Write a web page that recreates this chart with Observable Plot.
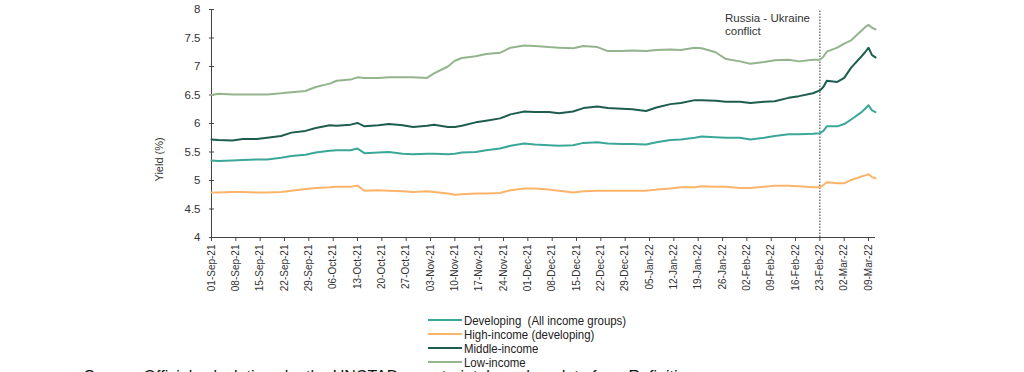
<!DOCTYPE html>
<html>
<head>
<meta charset="utf-8">
<script src="https://cdn.jsdelivr.net/npm/d3@7"></script>
<script src="https://cdn.jsdelivr.net/npm/@observablehq/plot@0.6"></script>
<style>
  html, body { margin: 0; padding: 0; background: #fff; overflow: hidden; }
  #wrap { position: relative; width: 1024px; height: 372px; overflow: hidden; }
  #legend { position: absolute; left: 428px; top: 313px; font-family: "Liberation Sans", Arial, sans-serif; font-size: 13px; color: #222; }
  .item { display: flex; align-items: center; height: 14px; }
  .sw { width: 34px; height: 2px; margin-right: 2px; flex: none; }
  .lt { display: inline-block; white-space: pre; transform: scaleX(0.88); transform-origin: left center; }
  #caption { position: absolute; left: 84px; top: 369px; font-family: "Liberation Sans", Arial, sans-serif; font-size: 16px; line-height: 16px; color: #111; white-space: nowrap; }
</style>
</head>
<body>
<div id="wrap">
  <div id="chart"></div>
  <div id="legend"></div>
  <div id="caption"></div>
</div>
<script>
// ---- data ----
const dates = [
  "2021-09-01","2021-09-03","2021-09-07","2021-09-10","2021-09-14","2021-09-17","2021-09-21","2021-09-24","2021-09-28",
  "2021-10-01","2021-10-05","2021-10-07","2021-10-11","2021-10-13","2021-10-15","2021-10-19","2021-10-22","2021-10-26","2021-10-29",
  "2021-11-02","2021-11-04","2021-11-08","2021-11-10","2021-11-12","2021-11-16","2021-11-19","2021-11-23","2021-11-26","2021-11-30",
  "2021-12-03","2021-12-07","2021-12-10","2021-12-14","2021-12-17","2021-12-21","2021-12-24","2021-12-28","2021-12-31",
  "2022-01-04","2022-01-07","2022-01-11","2022-01-14","2022-01-18","2022-01-20","2022-01-24","2022-01-27","2022-01-31",
  "2022-02-03","2022-02-07","2022-02-10","2022-02-14","2022-02-17","2022-02-21","2022-02-23","2022-02-24","2022-02-25","2022-02-28",
  "2022-03-02","2022-03-04","2022-03-07","2022-03-08","2022-03-09","2022-03-10","2022-03-11"
];
const developing = [
  5.35,5.34,5.35,5.36,5.37,5.37,5.40,5.43,5.45,
  5.49,5.52,5.53,5.53,5.56,5.48,5.49,5.50,5.47,5.46,
  5.47,5.47,5.46,5.47,5.49,5.50,5.53,5.56,5.61,5.65,
  5.63,5.62,5.61,5.62,5.66,5.67,5.65,5.64,5.64,
  5.63,5.67,5.71,5.72,5.75,5.77,5.76,5.75,5.75,
  5.72,5.75,5.78,5.81,5.81,5.82,5.83,5.87,5.95,5.95,
  5.99,6.07,6.20,6.26,6.32,6.23,6.20
];
const highIncome = [
  4.79,4.79,4.80,4.80,4.79,4.79,4.80,4.82,4.85,
  4.87,4.88,4.89,4.89,4.91,4.82,4.83,4.82,4.81,4.80,
  4.81,4.80,4.77,4.75,4.76,4.77,4.77,4.78,4.83,4.86,
  4.86,4.84,4.82,4.79,4.81,4.82,4.82,4.82,4.82,
  4.82,4.84,4.86,4.88,4.88,4.90,4.89,4.89,4.87,
  4.87,4.89,4.91,4.91,4.90,4.88,4.88,4.92,4.97,4.95,
  4.95,5.01,5.07,5.09,5.11,5.06,5.04
];
const middleIncome = [
  5.72,5.71,5.70,5.73,5.73,5.75,5.78,5.84,5.87,
  5.92,5.97,5.96,5.98,6.01,5.95,5.97,5.99,5.97,5.94,
  5.96,5.98,5.94,5.94,5.96,6.02,6.05,6.09,6.16,6.21,
  6.20,6.20,6.18,6.21,6.27,6.30,6.27,6.26,6.25,
  6.22,6.28,6.34,6.36,6.41,6.41,6.40,6.38,6.38,
  6.36,6.38,6.39,6.45,6.48,6.53,6.58,6.64,6.75,6.73,
  6.80,6.98,7.18,7.25,7.33,7.20,7.16
];
const lowIncome = [
  6.50,6.52,6.51,6.51,6.51,6.51,6.53,6.55,6.57,
  6.64,6.70,6.75,6.77,6.81,6.80,6.80,6.81,6.81,6.81,
  6.80,6.88,7.00,7.10,7.15,7.18,7.22,7.24,7.33,7.37,
  7.36,7.34,7.33,7.32,7.36,7.34,7.27,7.27,7.28,
  7.27,7.29,7.30,7.29,7.33,7.32,7.25,7.13,7.09,
  7.05,7.08,7.11,7.12,7.09,7.12,7.12,7.17,7.26,7.33,
  7.40,7.46,7.63,7.69,7.73,7.68,7.65
];
const seriesNames = ["Developing  (All income groups)", "High-income (developing)", "Middle-income", "Low-income"];
const seriesColors = ["#3aa898", "#fbb46a", "#1f5c50", "#93b48d"];
const seriesValues = [developing, highIncome, middleIncome, lowIncome];
const xTickLabels = [
  "2021-09-01","2021-09-08","2021-09-15","2021-09-22","2021-09-29","2021-10-06","2021-10-13","2021-10-20","2021-10-27",
  "2021-11-03","2021-11-10","2021-11-17","2021-11-24","2021-12-01","2021-12-08","2021-12-15","2021-12-22","2021-12-29",
  "2022-01-05","2022-01-12","2022-01-19","2022-01-26","2022-02-02","2022-02-09","2022-02-16","2022-02-23","2022-03-02","2022-03-09"
];
const yTicks = [4, 4.5, 5, 5.5, 6, 6.5, 7, 7.5, 8];
const xDomain = ["2021-09-01", "2022-03-11"];
const conflictDate = ["2022-02-23"];
const annotation = [{date: "2022-01-27", value: 7.93, label: "Russia - Ukraine\nconflict"}];
const yLabel = "Yield (%)";
const captionText = "Source: Official calculations by the UNCTAD secretariat, based on data from Refinitiv.";

// ---- build ----
const parse = d3.utcParse("%Y-%m-%d");
const rows = [];
seriesNames.forEach((name, i) => {
  dates.forEach((d, j) => rows.push({date: parse(d), value: seriesValues[i][j], series: name}));
});
const fmt = d3.utcFormat("%d-%b-%y");

const chart = Plot.plot({
  width: 1024,
  height: 312,
  marginLeft: 211,
  marginRight: 149,
  marginTop: 9,
  marginBottom: 75,
  style: {fontFamily: "'Liberation Sans', Arial, sans-serif", color: "#333", background: "#fff"},
  x: {type: "utc", domain: xDomain.map(parse)},
  y: {domain: [4, 8]},
  color: {domain: seriesNames, range: seriesColors},
  marks: [
    Plot.axisX({ticks: xTickLabels.map(parse), tickFormat: fmt, tickRotate: -90, tickSize: 4, tickPadding: 3, fontSize: 10, label: null, stroke: "#444"}),
    Plot.axisY({ticks: yTicks, tickSize: 2, tickPadding: 9, tickFormat: d => String(d), fontSize: 11.5, label: null, stroke: "#444"}),
    Plot.tickY(yTicks, {y: d => d, insetRight: 661, stroke: "#444"}),
    Plot.ruleY([4], {stroke: "#444"}),
    Plot.ruleX([parse(xDomain[0])], {stroke: "#444"}),
    Plot.text([yLabel], {frameAnchor: "left", rotate: -90, dx: -52, dy: 58, fontSize: 11, fill: "#333"}),
    Plot.ruleX(conflictDate.map(parse), {y1: 4, y2: 8, stroke: "#333", strokeDasharray: "1.5,1.5", strokeWidth: 1}),
    Plot.line(rows, {x: "date", y: "value", z: "series", stroke: "series", strokeWidth: 2}),
    Plot.text(annotation, {x: d => parse(d.date), y: "value", text: "label", textAnchor: "start", lineAnchor: "top", fontSize: 11.5, fill: "#333", dx: -1, lineHeight: 1.1})
  ]
});
document.getElementById("chart").appendChild(chart);

const legend = document.getElementById("legend");
seriesNames.forEach((name, i) => {
  const item = document.createElement("div");
  item.className = "item";
  const sw = document.createElement("span");
  sw.className = "sw";
  sw.style.background = seriesColors[i];
  const t = document.createElement("span");
  t.className = "lt";
  t.textContent = name;
  item.appendChild(sw);
  item.appendChild(t);
  legend.appendChild(item);
});
document.getElementById("caption").textContent = captionText;
</script>
</body>
</html>
